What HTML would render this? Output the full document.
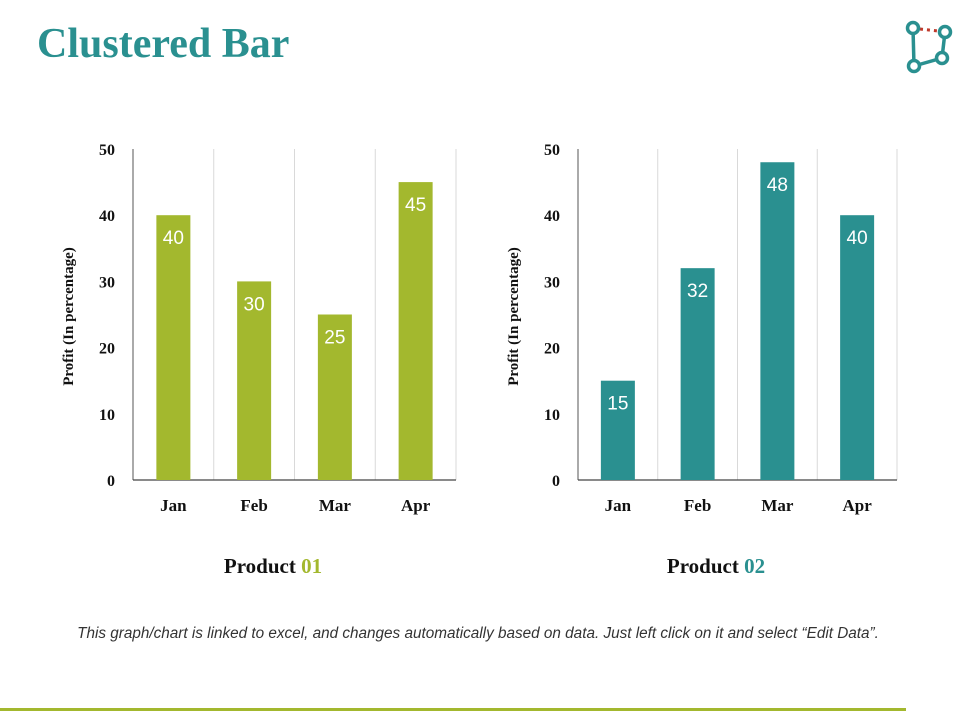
<!DOCTYPE html>
<html><head><meta charset="utf-8"><style>
body{margin:0;width:960px;height:720px;background:#fff;overflow:hidden;position:relative;font-family:"Liberation Sans",sans-serif}
.title{position:absolute;left:37px;top:20px;font-family:"Liberation Serif",serif;font-weight:bold;font-size:42px;color:#2a9090}
.note{position:absolute;left:0;width:956px;top:625px;text-align:center;font-style:italic;font-size:15.3px;color:#333}
.bottom{position:absolute;left:0;top:708px;width:906px;height:3px;background:#a3b82e}
</style></head><body>
<div class="title">Clustered Bar</div>
<svg style="position:absolute;left:898px;top:16px" width="60" height="60" viewBox="0 0 60 60">
<polyline points="15,12 16,50 44,42 47,16" fill="none" stroke="#2a9090" stroke-width="3.5"/>
<line x1="22" y1="13" x2="40" y2="15" stroke="#c0392b" stroke-width="3" stroke-dasharray="3,4"/>
<circle cx="15" cy="12" r="5.5" fill="#fff" stroke="#2a9090" stroke-width="3.5"/>
<circle cx="47" cy="16" r="5.5" fill="#fff" stroke="#2a9090" stroke-width="3.5"/>
<circle cx="44" cy="42" r="5.5" fill="#fff" stroke="#2a9090" stroke-width="3.5"/>
<circle cx="16" cy="50" r="5.5" fill="#fff" stroke="#2a9090" stroke-width="3.5"/>
</svg>
<svg id="charts" width="960" height="720" style="position:absolute;left:0;top:0"></svg>
<div class="note">This graph/chart is linked to excel, and changes automatically based on data. Just left click on it and select “Edit Data”.</div>
<div class="bottom"></div>
<script>
const categories=["Jan","Feb","Mar","Apr"];
const product1Values=[40,30,25,45];
const product2Values=[15,32,48,40];
const yTicks=[0,10,20,30,40,50];
const NS="http://www.w3.org/2000/svg";
const svg=document.getElementById('charts');
function mk(t,a,p){const e=document.createElementNS(NS,t);for(const k in a)e.setAttribute(k,a[k]);(p||svg).appendChild(e);return e;}
function draw(id,x0,x1,values,color,name,capX){
  const top=149,bot=480,yMax=50;
  const y=v=>bot-(v/yMax)*(bot-top);
  const cw=(x1-x0)/categories.length;
  const g=mk('g',{});
  
  
  categories.forEach((c,i)=>{
    const gx=x0+cw*(i+1);
    const gl=mk('line',{x1:gx,x2:gx,y1:top,y2:bot,stroke:'#d9d9d9','stroke-width':1},g);
    
    
  });
  const ax=mk('line',{x1:x0,x2:x0,y1:top,y2:bot,stroke:'#555','stroke-width':1},g);
  
  
  const bx=mk('line',{x1:x0,x2:x1,y1:bot,y2:bot,stroke:'#444','stroke-width':1.3},g);
  
  
  yTicks.forEach(v=>{
    const t=mk('text',{x:x0-18,y:y(v)+6,'text-anchor':'end','font-family':'Liberation Serif,serif','font-weight':'bold','font-size':16,fill:'#111'},g);
    t.textContent=v;
    
    
  });
  const yt=mk('text',{transform:`translate(${x0-60},${(top+bot)/2+2}) rotate(-90)`,'text-anchor':'middle','font-family':'Liberation Serif,serif','font-weight':'bold','font-size':15,fill:'#111','xml:space':'preserve'},g);
  yt.textContent='Profit  (In percentage)';
  
  
  values.forEach((v,i)=>{
    const cx=x0+cw*(i+0.5);
    const r=mk('rect',{x:cx-17,y:y(v),width:34,height:bot-y(v),fill:color},g);
    
    
    const l=mk('text',{x:cx,y:y(v)+29,'text-anchor':'middle','font-size':19,fill:'#fff'},g);
    l.textContent=v;
    
    
    const c=mk('text',{x:cx,y:bot+31,'text-anchor':'middle','font-family':'Liberation Serif,serif','font-weight':'bold','font-size':17,fill:'#111'},g);
    c.textContent=categories[i];
    
    
  });
  const pn=mk('text',{x:capX,y:573,'text-anchor':'middle','font-family':'Liberation Serif,serif','font-weight':'bold','font-size':21,fill:'#111'},g);
  pn.innerHTML='Product <tspan fill="'+color+'">'+name+'</tspan>';
  
  
}
draw('chart-product-01',133,456,product1Values,'#a3b82e','01',273);
draw('chart-product-02',578,897,product2Values,'#2a9090','02',716);
</script>
</body></html>
